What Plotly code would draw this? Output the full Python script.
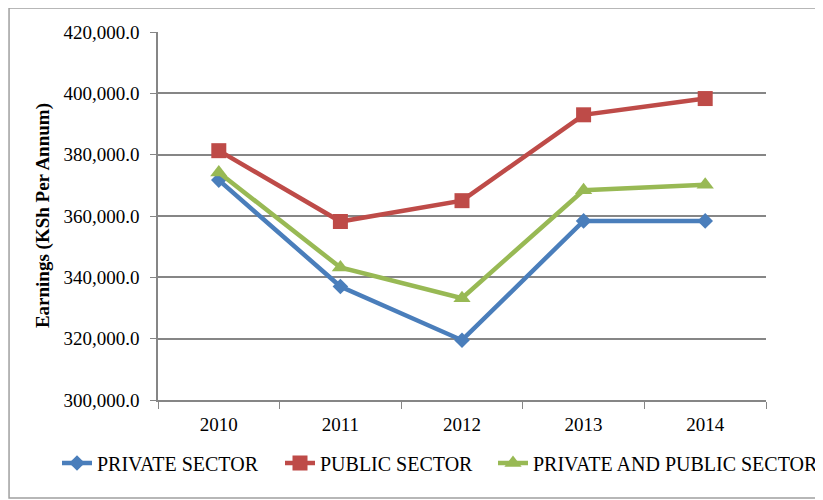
import plotly.graph_objects as go

years = ["2010", "2011", "2012", "2013", "2014"]
private_sector = [371700, 337000, 319500, 358400, 358400]
public_sector = [381300, 358200, 365000, 393000, 398300]
private_public = [374200, 343200, 333200, 368400, 370200]
y_ticks = [300000, 320000, 340000, 360000, 380000, 400000, 420000]

FONT = "Liberation Serif"
W, H = 815, 492  # page body has an 8px margin

fig = go.Figure()
fig.add_trace(go.Scatter(x=years, y=private_sector, name="PRIVATE SECTOR", mode="lines+markers",
                         line=dict(color="#4A7EBB", width=4.5), legend="legend",
                         marker=dict(symbol="diamond", size=12, color="#4A7EBB")))
fig.add_trace(go.Scatter(x=years, y=public_sector, name="PUBLIC SECTOR", mode="lines+markers",
                         line=dict(color="#BE4B48", width=4.5), legend="legend2",
                         marker=dict(symbol="square", size=15, color="#BE4B48")))
fig.add_trace(go.Scatter(x=years, y=private_public, name="PRIVATE AND PUBLIC SECTOR", mode="lines+markers",
                         line=dict(color="#98B954", width=4.5), legend="legend3",
                         marker=dict(symbol="triangle-up", size=15, color="#98B954")))


def leg(xpx, anchor="left"):
    return dict(orientation="h", xref="container", yref="container",
                x=xpx / W, xanchor=anchor, y=1 - 455 / H, yanchor="middle",
                font=dict(family=FONT, size=20), itemwidth=30,
                bgcolor="rgba(0,0,0,0)")


fig.update_layout(
    width=W, height=H,
    margin=dict(l=150, r=57, t=24, b=100, autoexpand=False),
    paper_bgcolor="white", plot_bgcolor="white",
    font=dict(family=FONT, size=19, color="black"),
    showlegend=True,
    legend=leg(49), legend2=leg(272), legend3=leg(W, "right"),
    xaxis=dict(type="category", range=[-0.5, 4.5], showgrid=False,
               showline=True, linecolor="#868686", linewidth=1.5,
               ticks="outside", tickson="boundaries", ticklen=7, tickcolor="#868686",
               ticklabelstandoff=6, tickfont=dict(family=FONT, size=19)),
    yaxis=dict(range=[300000, 420000], tickvals=y_ticks, tickformat=",.1f",
               showgrid=True, gridcolor="#868686", gridwidth=1.5,
               showline=True, linecolor="#868686", linewidth=1.5,
               ticks="outside", ticklen=6, tickcolor="#868686", ticklabelstandoff=7,
               tickfont=dict(family=FONT, size=19), zeroline=False),
    annotations=[dict(text="<b>Earnings (KSh Per Annum)</b>", textangle=-90,
                      xref="paper", yref="paper", x=-0.189, y=0.5,
                      xanchor="center", yanchor="middle",
                      showarrow=False, font=dict(family=FONT, size=19))],
    shapes=[dict(type="rect", xref="paper", yref="paper", x0=-0.245, x1=1.0905,
                 y0=-0.266, y1=1.0652, line=dict(color="#A0A0A0", width=1.5))],
)

fig.write_html("out.html")
